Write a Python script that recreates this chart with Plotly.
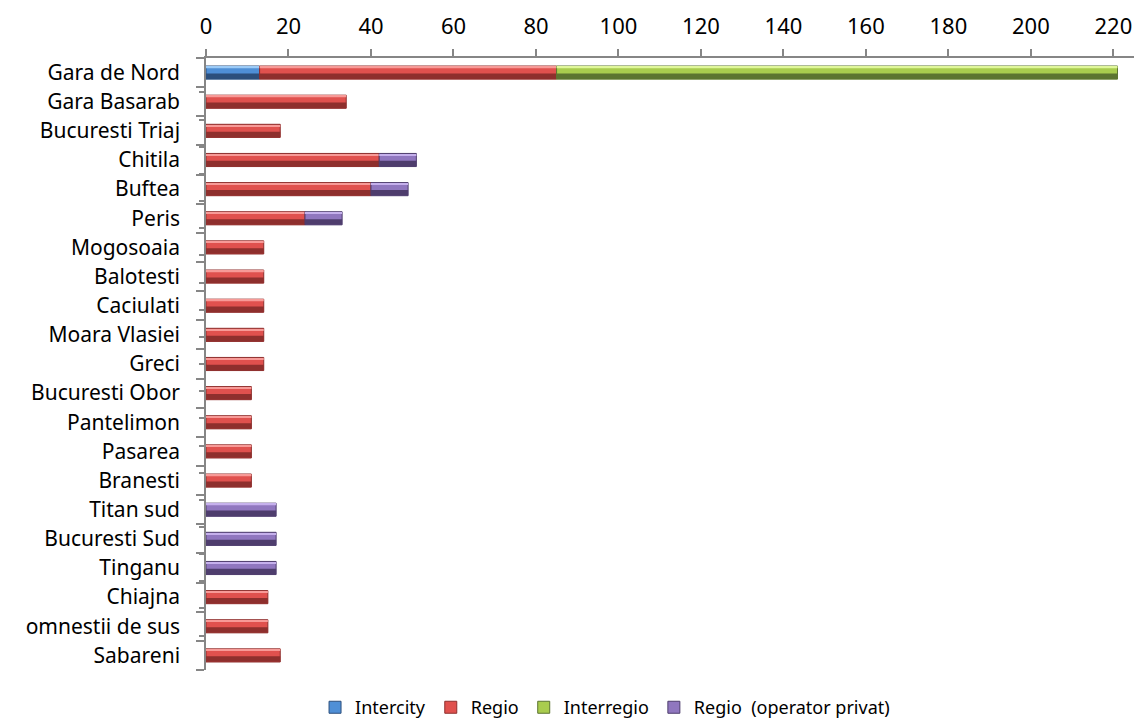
import plotly.graph_objects as go
import numpy as np

stations = ["Gara de Nord", "Gara Basarab", "Bucuresti Triaj", "Chitila", "Buftea", "Peris",
            "Mogosoaia", "Balotesti", "Caciulati", "Moara Vlasiei", "Greci", "Bucuresti Obor",
            "Pantelimon", "Pasarea", "Branesti", "Titan sud", "Bucuresti Sud", "Tinganu",
            "Chiajna", "omnestii de sus", "Sabareni"]
intercity = [13, 0, 0, 0, 0, 0, 0, 0, 0, 0, 0, 0, 0, 0, 0, 0, 0, 0, 0, 0, 0]
regio = [72, 34, 18, 42, 40, 24, 14, 14, 14, 14, 14, 11, 11, 11, 11, 0, 0, 0, 15, 15, 18]
interregio = [136, 0, 0, 0, 0, 0, 0, 0, 0, 0, 0, 0, 0, 0, 0, 0, 0, 0, 0, 0, 0]
regio_privat = [0, 0, 0, 9, 9, 9, 0, 0, 0, 0, 0, 0, 0, 0, 0, 17, 17, 17, 0, 0, 0]
x_ticks = [0, 20, 40, 60, 80, 100, 120, 140, 160, 180, 200, 220]

# name, values, dark, mid, light
series = [
    ("Intercity", intercity, "#2c4f7c", "#4f8fd6", "#9ccbf7"),
    ("Regio", regio, "#8e2f2d", "#e0514e", "#f79a97"),
    ("Interregio", interregio, "#5c7430", "#a9cc4e", "#e0f79a"),
    ("Regio  (operator privat)", regio_privat, "#4e3d6d", "#9077bf", "#c5b0ec"),
]

FONT = "Noto Sans"
fig = go.Figure()
base = np.zeros(len(stations))
for name, vals, dark, mid, light in series:
    v = np.array(vals, dtype=float)
    keep = v > 0
    ys = [s for s, k in zip(stations, keep) if k]
    xs = v[keep].tolist()
    bs = base[keep].tolist()
    # body (mid tone) – carries the legend entry
    fig.add_trace(go.Bar(
        y=ys, x=xs, base=bs, orientation="h", name=name, width=0.45,
        marker=dict(color=mid, line=dict(color=dark, width=1)),
        showlegend=True, legendgroup=name,
    ))
    # dark lower part
    fig.add_trace(go.Bar(
        y=ys, x=xs, base=bs, orientation="h", name=name, width=0.19, offset=0.03,
        marker=dict(color=dark, line=dict(width=0)),
        showlegend=False, legendgroup=name, hoverinfo="skip",
    ))
    # light highlight along the top edge
    fig.add_trace(go.Bar(
        y=ys, x=xs, base=bs, orientation="h", name=name, width=0.05, offset=-0.2,
        marker=dict(color=light, line=dict(width=0)),
        showlegend=False, legendgroup=name, hoverinfo="skip",
    ))
    base = base + v

# invisible trace to carry centre tick marks on a second category axis
fig.add_trace(go.Scatter(
    x=[0] * len(stations), y=stations, yaxis="y2", mode="markers",
    marker=dict(opacity=0), showlegend=False, hoverinfo="skip",
))

axis_grey = "#868686"
fig.update_layout(
    width=1136, height=722,
    margin=dict(l=206, r=2, t=58, b=52, autoexpand=False),
    barmode="overlay",
    plot_bgcolor="white", paper_bgcolor="white",
    font=dict(family=FONT, size=21, color="black"),
    legend=dict(orientation="h", x=0.43, xanchor="center",
                yref="container", y=0.02, yanchor="middle",
                font=dict(family=FONT, size=18), itemwidth=30, tracegroupgap=0,
                traceorder="normal"),
    xaxis=dict(side="top", range=[0, 225], tickvals=x_ticks, showgrid=False,
               showline=True, linecolor=axis_grey, linewidth=1.5,
               ticks="outside", ticklen=7, tickcolor=axis_grey, tickwidth=1.5,
               ticklabelstandoff=6, zeroline=False, tickfont=dict(size=22),
               automargin=False),
    yaxis=dict(categoryorder="array", categoryarray=stations, autorange="reversed",
               tickmode="array", tickvals=stations, ticktext=stations,
               showline=True, linecolor=axis_grey, linewidth=1.5,
               ticks="outside", ticklen=8, tickcolor=axis_grey, tickwidth=1.5,
               tickson="boundaries", showgrid=False, ticklabelstandoff=20,
               tickfont=dict(size=21), automargin=False),
    yaxis2=dict(overlaying="y", side="left", type="category",
                categoryorder="array", categoryarray=stations, autorange="reversed",
                showticklabels=False, showline=False, showgrid=False,
                ticks="outside", ticklen=6, tickcolor=axis_grey, tickwidth=1.5,
                automargin=False),
)

fig.write_html("out.html")
